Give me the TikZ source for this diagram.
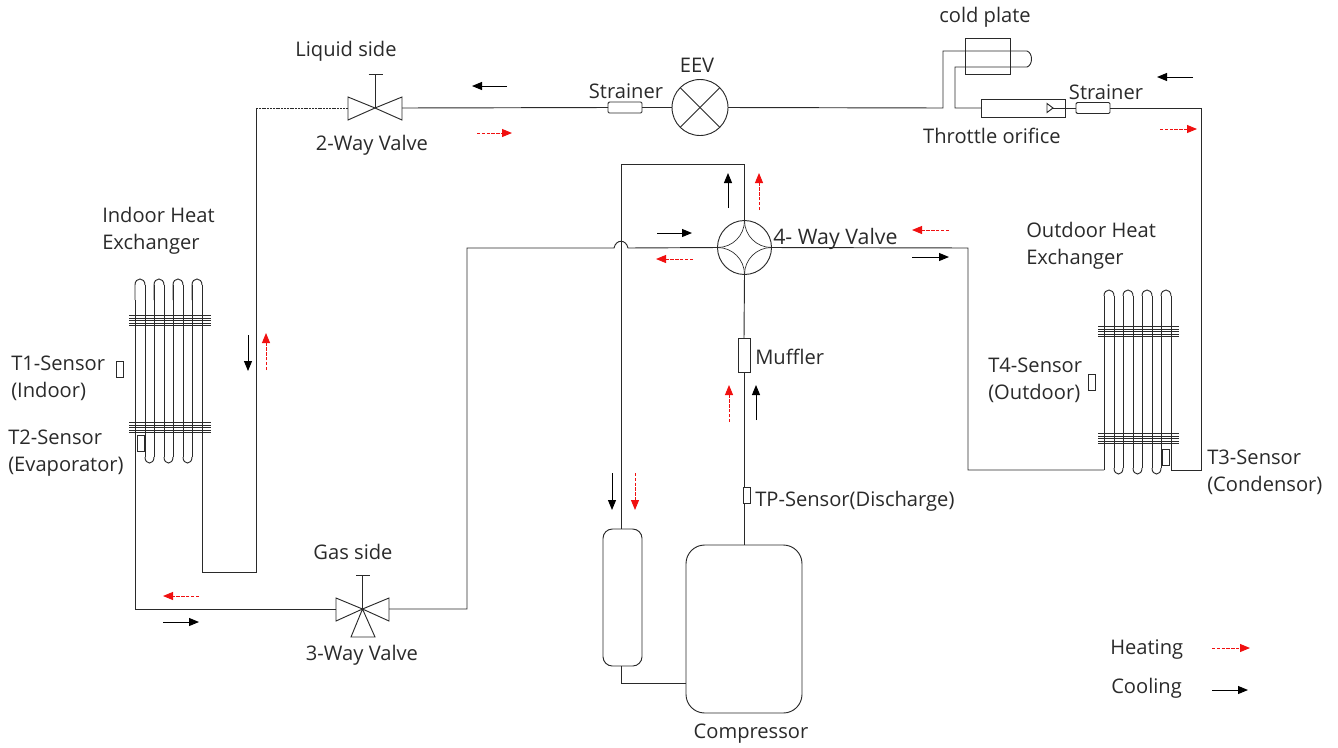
\documentclass[tikz,border=0pt]{standalone}
\usepackage{fontspec}
\setmainfont{Open Sans}[Scale=1.0]
\usetikzlibrary{arrows.meta}
\definecolor{ink}{HTML}{2A2A2A}
\definecolor{heat}{HTML}{F01010}
\def\pu{0.75pt}
\tikzset{
  pipe/.style={draw=ink,line width=0.7pt},
  part/.style={draw=ink,line width=0.7pt,fill=white,inner sep=0pt,outer sep=0pt,rectangle},
  sensor/.style={part,minimum width=7*\pu,minimum height=16*\pu},
  strainerbox/.style={part,rounded corners=1pt,minimum width=34*\pu,minimum height=11*\pu},
  fin/.style={draw=ink,line width=0.75pt},
  lab/.style={inner sep=0pt,text=ink,yshift=-2pt,font=\fontsize{15.1pt}{20.25pt}\selectfont},
  lableft/.style={lab,anchor=west,align=left},
  coolarrow/.style={draw=black,line width=0.75pt,-{Triangle[length=7.5pt,width=6pt]}},
  heatarrow/.style={draw=heat,line width=0.7pt,dash pattern=on 2.6pt off 1pt,-{Triangle[length=7.5pt,width=6pt]}},
  valvepart/.style={draw=ink,line width=0.7pt,line join=miter}
}
\begin{document}
\begin{tikzpicture}[x=\pu,y=-\pu]
\useasboundingbox (0,0) rectangle (1338,747);
% components
\node[strainerbox] (strainerA) at (625,107.5) {};
\node[part,circle,minimum size=56*\pu] (eev) at (700,107.5) {};
\node[part,minimum width=84*\pu,minimum height=18*\pu] (orifice) at (1023,108) {};
\node[strainerbox] (strainerB) at (1093,108) {};
\node[part,circle,minimum size=54*\pu] (fourway) at (744.5,247.5) {};
\node[part,minimum width=12*\pu,minimum height=34*\pu] (muffler) at (744,355) {};
\node[part,rounded corners=7pt,minimum width=39*\pu,minimum height=137*\pu] (accum) at (622.5,597.5) {};
\node[part,rounded corners=14pt,minimum width=116*\pu,minimum height=168*\pu] (comp) at (744,629) {};
\coordinate (valveTwo) at (375,108);
\coordinate (valveThree) at (362.5,609);
\coordinate (vTwoL) at (348,108);
\coordinate (vTwoR) at (402,108);
\coordinate (vThreeL) at (336,609);
\coordinate (vThreeR) at (389,609);
% bends
\coordinate (a1) at (256,108);
\coordinate (a2) at (256,572);
\coordinate (a3) at (202,572);
\coordinate (b1) at (135,609);
\coordinate (c1) at (467,609);
\coordinate (c2) at (467,248);
\coordinate (d1) at (621,164);
\coordinate (d2) at (744.5,164);
\coordinate (e1) at (968,248);
\coordinate (e2) at (968,470);
\coordinate (e3) at (1104,470);
\coordinate (f1) at (1171,470);
\coordinate (f2) at (1201,470);
\coordinate (f3) at (1201,108);
\coordinate (g1) at (943,108);
\coordinate (g2) at (943,51);
\coordinate (g3) at (955,67);
\coordinate (g4) at (955,108);
% cold plate
\node[part,fill=none,minimum width=45*\pu,minimum height=36*\pu] (plate) at (987.5,56) {};
\coordinate (h1) at (1027,51);
\coordinate (h2) at (1027,67);
% pipes
\draw[pipe,dash pattern=on 1.5pt off 0.6pt,line width=0.6pt] (a1) -- (vTwoL);
\draw[pipe] (vTwoR) -- (strainerA.west);
\draw[pipe] (strainerA.east) -- (eev.west);
\draw[pipe] (eev.east) -- (g1) -- (g2) -- (h1) .. controls (1033,53) and (1033,65) .. (h2) -- (g3) -- (g4) -- (orifice.west);
\draw[pipe] (strainerB.east) -- (f3) -- (f2) -- (f1);
\draw[pipe] (1053,108) -- (strainerB.west);
\draw[pipe] (1047,103.5) -- (1053,108) -- (1047,112.5) -- cycle;
\draw[pipe] (a3) -- (a2) -- (a1);
\draw[pipe] (vThreeL) -- (b1) -- (135,300);
\draw[pipe] (vThreeR) -- (c1) -- (c2) -- (614,248) .. controls (616,239) and (626,239) .. (628,248) -- (fourway.west);
\draw[pipe] (fourway.north) -- (d2) -- (d1) -- (accum.north -| d1);
\draw[pipe] (fourway.east) -- (e1) -- (e2) -- (e3);
\draw[pipe] (fourway.south) -- (muffler.north);
\draw[pipe] (muffler.south) -- (comp.north);
\draw[pipe] (accum.south -| d1) -- (621,683) -- (comp.west |- 0,683);
% four way inner curves
\draw[pipe,line width=0.5pt] (fourway.north) .. controls +(0,15) and +(15,0) .. (fourway.west);
\draw[pipe,line width=0.5pt] (fourway.north) .. controls +(0,15) and +(-15,0) .. (fourway.east);
\draw[pipe,line width=0.5pt] (fourway.south) .. controls +(0,-15) and +(15,0) .. (fourway.west);
\draw[pipe,line width=0.5pt] (fourway.south) .. controls +(0,-15) and +(-15,0) .. (fourway.east);
% eev cross
\draw[pipe] (eev.north west) -- (eev.south east);
\draw[pipe] (eev.north east) -- (eev.south west);
% 2-way valve
\draw[valvepart] (valveTwo) -- (348,97) -- (348,120) -- cycle;
\draw[valvepart] (valveTwo) -- (402,97) -- (402,120) -- cycle;
\draw[valvepart] (valveTwo) -- (375,74) (368.5,74) -- (382.5,74);
% 3-way valve
\draw[valvepart] (valveThree) -- (336,598) -- (336,621) -- cycle;
\draw[valvepart] (valveThree) -- (389,598) -- (389,621) -- cycle;
\draw[valvepart] (valveThree) -- (351,637) -- (375,637) -- cycle;
\draw[valvepart] (valveThree) -- (362.5,575) (356,575) -- (370,575);
% indoor coil
\foreach \xa/\xb in {135/145,154/164,173/183,192/202}{
  \draw[pipe] (\xa,300) -- (\xa,285) .. controls (\xa,277) and (\xb,277) .. (\xb,285);
}
\foreach \xt in {145,154,164,173,183,192}{\draw[pipe] (\xt,285) -- (\xt,457);}
\draw[pipe] (135,300) -- (135,460);
\draw[pipe] (202,285) -- (a3);
\foreach \xa/\xb in {145/154,164/173,183/192}{
  \draw[pipe] (\xa,457) .. controls (\xa,465) and (\xb,465) .. (\xb,457);
}
\foreach \yy in {315.5,318,320.5,323,325.5,422.5,425,427.5,430,432.5}{
  \draw[fin] (129,\yy) -- (211,\yy);
}
% outdoor coil
\foreach \xa/\xb in {1104/1114,1123/1133,1142/1152,1161/1171}{
  \draw[pipe] (\xa,296) .. controls (\xa,288) and (\xb,288) .. (\xb,296);
}
\draw[pipe] (1104,296) -- (e3);
\draw[pipe] (1171,296) -- (f1);
\foreach \xt in {1114,1123,1133,1142,1152,1161}{\draw[pipe] (\xt,296) -- (\xt,468);}
\foreach \xa/\xb in {1114/1123,1133/1142,1152/1161}{
  \draw[pipe] (\xa,468) .. controls (\xa,476) and (\xb,476) .. (\xb,468);
}
\foreach \yy in {326.5,329,331.5,334,336.5,433.5,436,438.5,441,443.5}{
  \draw[fin] (1098,\yy) -- (1179,\yy);
}
% sensors
\node[sensor,minimum height=16*\pu] (sT1) at (120,369) {};
\node[sensor] (sT2) at (140.5,443) {};
\node[sensor] (sT3) at (1166,457) {};
\node[sensor] (sT4) at (1091.5,382) {};
\node[sensor] (sTP) at (747,495.5) {};
% flow arrows
\coordinate (k1a) at (507,86); \coordinate (k1b) at (472,86);
\draw[coolarrow] (k1a) -- (k1b);
\coordinate (k2a) at (477,133); \coordinate (k2b) at (512,133);
\draw[heatarrow] (k2a) -- (k2b);
\coordinate (k3a) at (1193,77); \coordinate (k3b) at (1157,77);
\draw[coolarrow] (k3a) -- (k3b);
\coordinate (k4a) at (1160,129); \coordinate (k4b) at (1197,129);
\draw[heatarrow] (k4a) -- (k4b);
\coordinate (k5a) at (728,208); \coordinate (k5b) at (728,173);
\draw[coolarrow] (k5a) -- (k5b);
\coordinate (k6a) at (759,210); \coordinate (k6b) at (759,173);
\draw[heatarrow] (k6a) -- (k6b);
\coordinate (k7a) at (657,233); \coordinate (k7b) at (692,233);
\draw[coolarrow] (k7a) -- (k7b);
\coordinate (k8a) at (693,259); \coordinate (k8b) at (656,259);
\draw[heatarrow] (k8a) -- (k8b);
\coordinate (k9a) at (949,230); \coordinate (k9b) at (912,230);
\draw[heatarrow] (k9a) -- (k9b);
\coordinate (k10a) at (912,257); \coordinate (k10b) at (949,257);
\draw[coolarrow] (k10a) -- (k10b);
\coordinate (k11a) at (248,335); \coordinate (k11b) at (248,371);
\draw[coolarrow] (k11a) -- (k11b);
\coordinate (k12a) at (266,370); \coordinate (k12b) at (266,333);
\draw[heatarrow] (k12a) -- (k12b);
\coordinate (k13a) at (756,420); \coordinate (k13b) at (756,385);
\draw[coolarrow] (k13a) -- (k13b);
\coordinate (k14a) at (729,422); \coordinate (k14b) at (729,385);
\draw[heatarrow] (k14a) -- (k14b);
\coordinate (k15a) at (612,473); \coordinate (k15b) at (612,510);
\draw[coolarrow] (k15a) -- (k15b);
\coordinate (k16a) at (635,473); \coordinate (k16b) at (635,510);
\draw[heatarrow] (k16a) -- (k16b);
\coordinate (k17a) at (199,596); \coordinate (k17b) at (163,596);
\draw[heatarrow] (k17a) -- (k17b);
\coordinate (k18a) at (163,622); \coordinate (k18b) at (199,622);
\draw[coolarrow] (k18a) -- (k18b);
\coordinate (k19a) at (1212,648); \coordinate (k19b) at (1250,648);
\draw[heatarrow] (k19a) -- (k19b);
\coordinate (k20a) at (1212,690); \coordinate (k20b) at (1248,690);
\draw[coolarrow] (k20a) -- (k20b);
% labels
\node[lab] (tPlate) at (985,15) {cold plate};
\node[lab] (tLiquid) at (346,49) {Liquid side};
\node[lab] (tEEV) at (697,63) {EEV};
\node[lab] (tStrA) at (626,89) {Strainer};
\node[lab] (tStrB) at (1106,90) {Strainer};
\node[lab] (tThrottle) at (992,133) {Throttle orifice};
\node[lab] (tTwo) at (372,143) {2-Way Valve};
\node[lableft] (tIndoor) at (102,228) {Indoor Heat\\Exchanger};
\node[lableft,font=\fontsize{16pt}{20.25pt}\selectfont] (tFour) at (773,236) {4- Way Valve};
\node[lableft] (tOutdoor) at (1026,243) {Outdoor Heat\\Exchanger};
\node[lableft] (tT1) at (11,376) {T1-Sensor\\(Indoor)};
\node[lableft] (tT2) at (8,450) {T2-Sensor\\(Evaporator)};
\node[lableft] (tMuffler) at (755,354) {Muffler};
\node[lableft] (tT4) at (988,378) {T4-Sensor\\(Outdoor)};
\node[lableft] (tT3) at (1207,470) {T3-Sensor\\(Condensor)};
\node[lableft] (tTP) at (755,499) {TP-Sensor(Discharge)};
\node[lab] (tGas) at (353,549) {Gas side};
\node[lab] (tThree) at (362,653) {3-Way Valve};
\node[lab] (tComp) at (751,731) {Compressor};
\node[lableft] (tHeat) at (1110,647) {Heating};
\node[lableft] (tCool) at (1111,686) {Cooling};
\end{tikzpicture}
\end{document}
